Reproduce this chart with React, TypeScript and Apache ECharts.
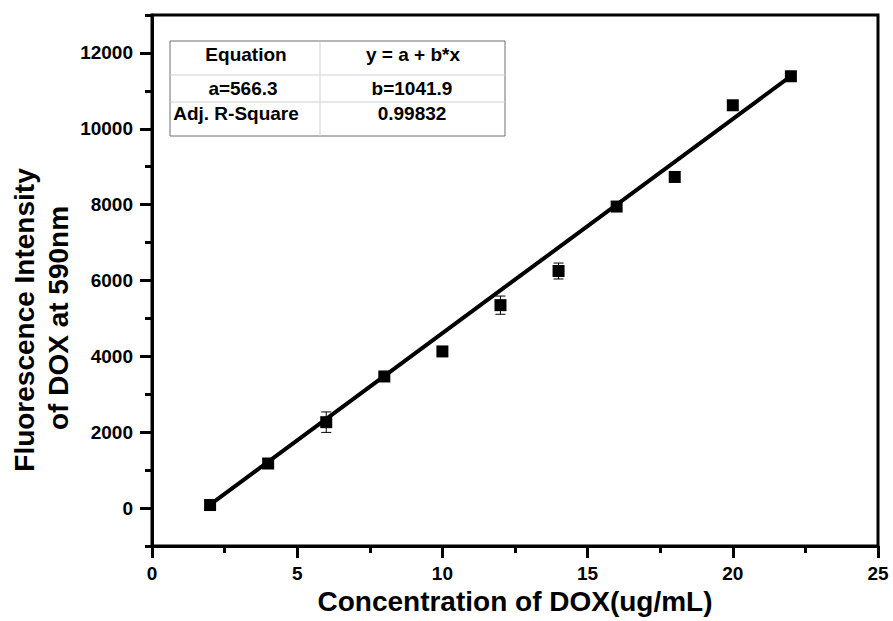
import React, { useEffect, useRef } from "react";
import * as echarts from "echarts";

// ---- data ----
const concentrations = [2, 4, 6, 8, 10, 12, 14, 16, 18, 20, 22];
const intensities = [80, 1175, 2265, 3470, 4130, 5350, 6250, 7950, 8730, 10620, 11385];
const errors = [40, 60, 270, 60, 50, 240, 210, 60, 60, 60, 50];
const fitX = [2, 22];
const fitY = [90, 11390];
const yMajorTicks = [0, 2000, 4000, 6000, 8000, 10000, 12000];
const tableRows = [
  ["Equation", "y = a + b*x"],
  ["a=566.3", "b=1041.9"],
  ["Adj. R-Square", "0.99832"],
];
const xTitle = "Concentration of DOX(ug/mL)";
const yTitleLines = ["Fluorescence Intensity", "of DOX at 590nm"];

const FONT = "'Liberation Sans', Arial, Helvetica, sans-serif";

export default function App() {
  const ref = useRef<HTMLDivElement>(null);
  useEffect(() => {
    if (!ref.current) return;
    const chart = echarts.init(ref.current, null, { renderer: "svg" });
    const black = "#000";
    const tableX = 170, tableY = 41, tableW = 335, tableH = 95;
    const colSep = 320;
    const rowSeps = [75, 102];
    const textPos = [
      [[246, 54], [413, 54]],
      [[243, 88], [412, 88]],
      [[236, 113], [412, 113]],
    ];
    const tableGraphics: any[] = [
      {
        type: "rect",
        shape: { x: tableX, y: tableY, width: tableW, height: tableH },
        style: { fill: "#fff", stroke: "#6e6e6e", lineWidth: 1 },
        z: 100,
      },
      ...rowSeps.map((y) => ({
        type: "line",
        shape: { x1: tableX, y1: y, x2: tableX + tableW, y2: y },
        style: { stroke: "#cfcfcf", lineWidth: 1 },
        z: 101,
      })),
      {
        type: "line",
        shape: { x1: colSep, y1: tableY, x2: colSep, y2: tableY + tableH },
        style: { stroke: "#cfcfcf", lineWidth: 1 },
        z: 101,
      },
    ];
    tableRows.forEach((row, r) => {
      row.forEach((txt, c) => {
        tableGraphics.push({
          type: "text",
          x: textPos[r][c][0],
          y: textPos[r][c][1],
          z: 102,
          style: {
            text: txt,
            fill: black,
            font: `bold 19px ${FONT}`,
            align: "center",
            verticalAlign: "middle",
          },
        });
      });
    });
    const yTitleGraphics = yTitleLines.map((t, i) => ({
      type: "text",
      x: i === 0 ? 24 : 58,
      y: i === 0 ? 320 : 318,
      rotation: Math.PI / 2,
      style: {
        text: t,
        fill: black,
        font: `bold 28px ${FONT}`,
        align: "center",
        verticalAlign: "middle",
      },
    }));

    const mkLine = () => ({ show: true, onZero: false, lineStyle: { color: black, width: 3, opacity: 1 } });
    const labelStyle = { color: black, fontSize: 19, fontWeight: "bold", fontFamily: FONT };
    const fmt = (v: number) => String(v);

    chart.setOption({
      animation: false,
      backgroundColor: "#fff",
      grid: {
        left: 152,
        right: 15,
        top: 15,
        bottom: 75,
        show: true,
        borderColor: black,
        borderWidth: 3,
        backgroundColor: "transparent",
      },
      xAxis: [
        {
          type: "value",
          min: 0,
          max: 25,
          interval: 5,
          axisLine: mkLine(),
          axisTick: { show: true, inside: false, length: 12, lineStyle: { color: black, width: 3 } },
          minorTick: { show: true, splitNumber: 2, length: 7, lineStyle: { color: black, width: 3 } },
          axisLabel: { ...labelStyle, margin: 18, formatter: fmt },
          splitLine: { show: false },
          minorSplitLine: { show: false },
          name: xTitle,
          nameLocation: "middle",
          nameGap: 35,
          nameTextStyle: { color: black, fontSize: 28, fontWeight: "bold", fontFamily: FONT },
        },
      ],
      yAxis: [
        {
          type: "value",
          min: -1000,
          max: 13000,
          interval: 1000,
          axisLine: mkLine(),
          axisTick: {
            show: true,
            inside: false,
            length: 12,
            customValues: yMajorTicks,
            lineStyle: { color: black, width: 3 },
          },
          axisLabel: { ...labelStyle, margin: 19, customValues: yMajorTicks, formatter: fmt },
          splitLine: { show: false },
        },
        {
          type: "value",
          position: "left",
          min: -1000,
          max: 13000,
          interval: 1000,
          axisLine: { show: false, onZero: false },
          axisTick: { show: true, inside: false, length: 7, lineStyle: { color: black, width: 3 } },
          axisLabel: { show: false },
          splitLine: { show: false },
        },
      ],
      series: [
        {
          type: "line",
          data: fitX.map((x, i) => [x, fitY[i]]),
          showSymbol: false,
          symbol: "none",
          lineStyle: { color: black, width: 4 },
          z: 2,
        },
        {
          type: "custom",
          data: concentrations.map((x, i) => [x, intensities[i] - errors[i], intensities[i] + errors[i]]),
          encode: { x: 0, y: [1, 2] },
          renderItem: (params: any, api: any) => {
            const x = api.value(0);
            const lo = api.coord([x, api.value(1)]);
            const hi = api.coord([x, api.value(2)]);
            const w = 5;
            const st = { stroke: black, lineWidth: 1 };
            return {
              type: "group",
              children: [
                { type: "line", shape: { x1: lo[0], y1: lo[1], x2: hi[0], y2: hi[1] }, style: st },
                { type: "line", shape: { x1: lo[0] - w, y1: lo[1], x2: lo[0] + w, y2: lo[1] }, style: st },
                { type: "line", shape: { x1: hi[0] - w, y1: hi[1], x2: hi[0] + w, y2: hi[1] }, style: st },
              ],
            };
          },
          z: 3,
        },
        {
          type: "scatter",
          data: concentrations.map((x, i) => [x, intensities[i]]),
          symbol: "rect",
          symbolSize: 12,
          itemStyle: { color: black, opacity: 1 },
          z: 4,
        },
      ],
      graphic: [...tableGraphics, ...yTitleGraphics],
    });
    return () => chart.dispose();
  }, []);
  return (
    <div
      ref={ref}
      style={{ position: "fixed", left: 0, top: 0, width: 893, height: 621, background: "#fff" }}
    />
  );
}
